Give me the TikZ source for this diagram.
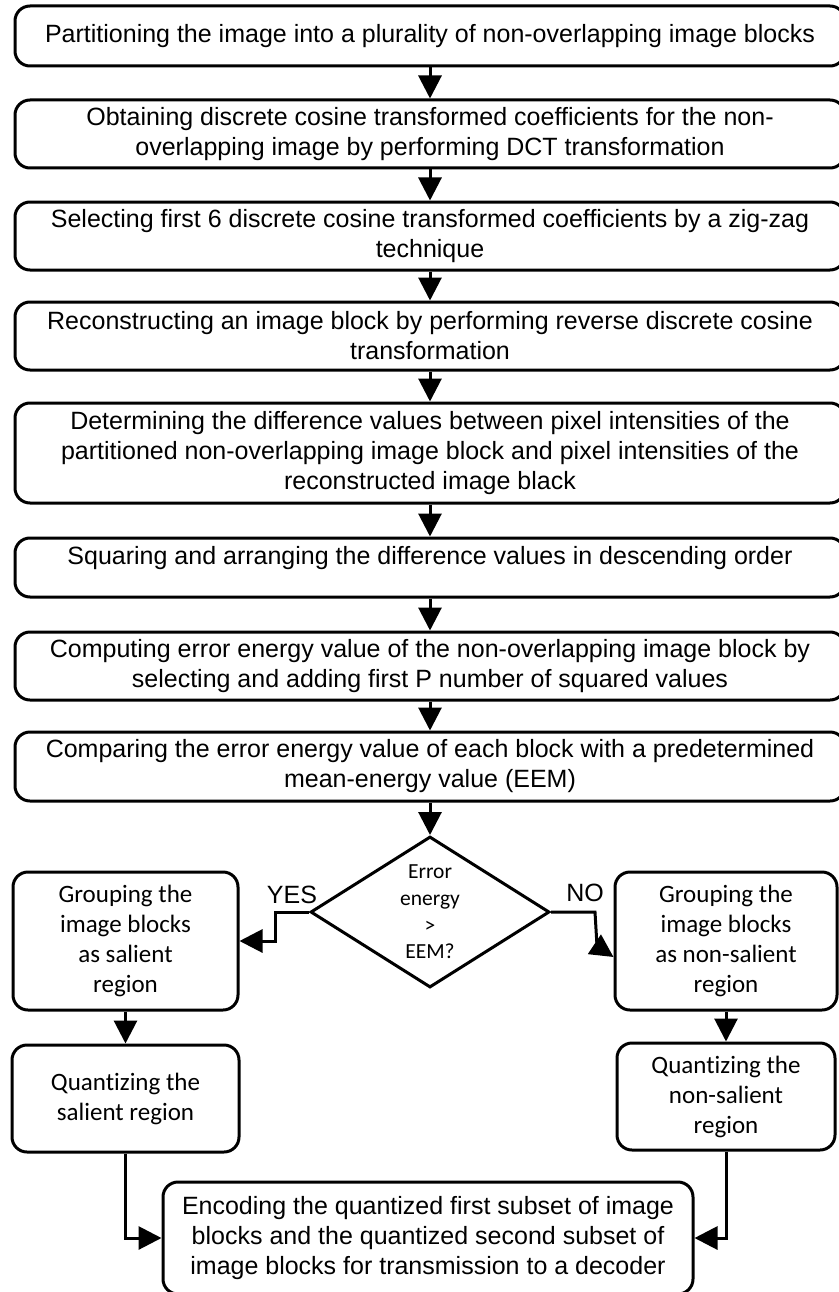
\documentclass[tikz,border=0pt]{standalone}
\usepackage{fontspec}
\setmainfont{Liberation Sans}
\newfontfamily\calfont[Ligatures=NoCommon]{Carlito}
\usetikzlibrary{arrows.meta, shapes.geometric}

\begin{document}
\begin{tikzpicture}[x=1pt, y=-1pt,
  box/.style={draw, line width=3pt, rounded corners=15pt, align=center, inner sep=0pt,
    font=\fontsize{25}{30}\selectfont},
  mainbox/.style={box, minimum width=830pt},
  sidebox/.style={box, font=\calfont\fontsize{25}{30}\selectfont},
  arr/.style={line width=3pt, -{Triangle[length=23pt, width=23pt]}}]
  \useasboundingbox (0,0) rectangle (838,1292);
  \node[mainbox, minimum height=60pt] (b1) at (430,36)
    {Partitioning the image into a plurality of non-overlapping image blocks};
  \node[mainbox, minimum height=68pt] (b2) at (430,134)
    {Obtaining discrete cosine transformed coefficients for the non-\\overlapping image by performing DCT transformation};
  \node[mainbox, minimum height=68pt] (b3) at (430,236)
    {Selecting first 6 discrete cosine transformed coefficients by a zig-zag\\technique};
  \node[mainbox, minimum height=68pt] (b4) at (430,336)
    {Reconstructing an image block by performing reverse discrete cosine\\transformation};
  \node[mainbox, minimum height=100pt] (b5) at (430,453)
    {Determining the difference values between pixel intensities of the\\partitioned non-overlapping image block and pixel intensities of the\\reconstructed image black};
  \node[mainbox, minimum height=59pt, text depth=25pt] (b6) at (430,567.5)
    {Squaring and arranging the difference values in descending order};
  \node[mainbox, minimum height=68pt] (b7) at (430,666)
    {Computing error energy value of the non-overlapping image block by\\selecting and adding first P number of squared values};
  \node[mainbox, minimum height=69pt] (b8) at (430,766.5)
    {Comparing the error energy value of each block with a predetermined\\mean-energy value (EEM)};
  \node[draw, diamond, line width=3pt, aspect=1.58, minimum width=239pt, minimum height=151pt,
    inner sep=0pt, align=center, font=\calfont\fontsize{21.5}{26.7}\selectfont] (d) at (430,912)
    {Error\\energy\\>\\EEM?};
  \node[sidebox, minimum width=225pt, minimum height=138pt] (gs) at (125.5,941)
    {Grouping the\\image blocks\\as salient\\region};
  \node[sidebox, minimum width=222pt, minimum height=138pt] (gn) at (726,941)
    {Grouping the\\image blocks\\as non-salient\\region};
  \node[sidebox, minimum width=227pt, minimum height=107pt] (qs) at (125.5,1098.5)
    {Quantizing the\\salient region};
  \node[sidebox, minimum width=218pt, minimum height=107pt] (qn) at (726,1096.5)
    {Quantizing the\\non-salient\\region};
  \node[box, minimum width=530pt, minimum height=112pt] (enc) at (428,1238)
    {Encoding the quantized first subset of image\\blocks and the quantized second subset of\\image blocks for transmission to a decoder};
  \node[font=\fontsize{25}{30}\selectfont] (yes) at (292,895) {YES};
  \node[font=\fontsize{25}{30}\selectfont] (no) at (585,893) {NO};
  \draw[arr] (b1) -- (b2);
  \draw[arr] (b2) -- (b3);
  \draw[arr] (b3) -- (b4);
  \draw[arr] (b4) -- (b5);
  \draw[arr] (b5) -- (b6);
  \draw[arr] (b6) -- (b7);
  \draw[arr] (b7) -- (b8);
  \draw[arr] (b8) -- (d);
  \draw[arr] (d.west) -- ++(-34,0) |- (gs.east);
  \draw[arr] (d.east) -- ++(44,0) -- ++(2,34) -- ([yshift=-16pt]gn.west);
  \draw[arr] (gs) -- (qs);
  \draw[arr] (gn) -- (qn);
  \draw[arr] (qs.south) |- (enc.west);
  \draw[arr] (qn.south) |- (enc.east);
\end{tikzpicture}
\end{document}
